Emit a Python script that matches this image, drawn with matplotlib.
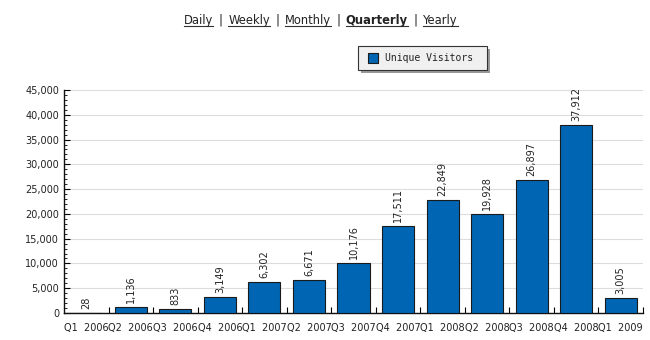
import numpy as np
import matplotlib
matplotlib.use("Agg")
import matplotlib.pyplot as plt
from matplotlib.lines import Line2D
from matplotlib.patches import Rectangle
from matplotlib.ticker import FuncFormatter, MultipleLocator

quarters = ["Q1  2006", "Q2  2006", "Q3  2006", "Q4  2006",
            "Q1  2007", "Q2  2007", "Q3  2007", "Q4  2007",
            "Q1  2008", "Q2  2008", "Q3  2008", "Q4  2008",
            "Q1  2009"]
visitors = [28, 1136, 833, 3149, 6302, 6671, 10176, 17511,
            22849, 19928, 26897, 37912, 3005]
nav_links = ["Daily", "Weekly", "Monthly", "Quarterly", "Yearly"]
active_link = "Quarterly"

bar_color = "#0066b3"
W, H = 650, 340
plt.rcParams["font.family"] = "DejaVu Sans"

fig = plt.figure(figsize=(W / 100, H / 100), dpi=100)
ax = fig.add_axes([64 / W, 27 / H, 579 / W, 223 / H])

x = np.arange(len(quarters))
ax.bar(x, visitors, width=0.72, color=bar_color, edgecolor="#1a1a1a",
       linewidth=0.8, zorder=3)
for xi, v in zip(x, visitors):
    ax.text(xi, v + 800, f"{v:,}", rotation=90, ha="center", va="bottom",
            fontsize=7, color="#222222", zorder=4)

ax.set_xlim(-0.5, len(quarters) - 0.5)
ax.set_ylim(0, 45000)
ax.yaxis.set_major_locator(MultipleLocator(5000))
ax.yaxis.set_minor_locator(MultipleLocator(1000))
ax.yaxis.set_major_formatter(FuncFormatter(lambda v, p: f"{int(v):,}"))
ax.grid(axis="y", color="#dddddd", linewidth=0.8, zorder=0)

ax.set_xticks(x)
ax.set_xticklabels(quarters, fontsize=7, color="#222222")
ax.tick_params(axis="x", length=0, pad=7)
ax.set_xticks(np.arange(len(quarters)) + 0.5, minor=True)
ax.tick_params(axis="x", which="minor", direction="in", length=4, width=0.8)
ax.tick_params(axis="y", which="major", direction="in", length=4,
               labelsize=7, labelcolor="#222222", width=0.8)
ax.tick_params(axis="y", which="minor", direction="in", length=2, width=0.6)

for side in ["top", "right"]:
    ax.spines[side].set_visible(False)
for side in ["left", "bottom"]:
    ax.spines[side].set_linewidth(1.0)
    ax.spines[side].set_color("#111111")

# navigation links across the top, each underlined, separated by pipes
fig.canvas.draw()
renderer = fig.canvas.get_renderer()
gap = 15
y_base = H - 24
cur = 184
for i, name in enumerate(nav_links):
    t = fig.text(cur / W, y_base / H, name, fontsize=8.3, color="#222222",
                 va="baseline",
                 fontweight="bold" if name == active_link else "normal")
    w = t.get_window_extent(renderer).width
    fig.add_artist(Line2D([cur / W, (cur + w) / W],
                          [(y_base - 2) / H, (y_base - 2) / H],
                          color="#333333", linewidth=0.8))
    cur += w
    if i < len(nav_links) - 1:
        fig.text((cur + gap / 2) / W, y_base / H, "|", fontsize=8.3,
                 color="#222222", ha="center", va="baseline")
        cur += gap

# legend box with drop shadow
lx0, ly0, lw, lh = 358, H - 70, 129, 24
fig.add_artist(Rectangle(((lx0 + 3) / W, (ly0 - 3) / H), lw / W, lh / H,
                         facecolor="#999999", edgecolor="none"))
fig.add_artist(Rectangle((lx0 / W, ly0 / H), lw / W, lh / H,
                         facecolor="#f0f0f0", edgecolor="#333333", linewidth=0.8))
fig.add_artist(Rectangle(((lx0 + 10) / W, (ly0 + 7) / H), 10 / W, 10 / H,
                         facecolor=bar_color, edgecolor="#1a1a1a", linewidth=0.8))
fig.text((lx0 + 27) / W, (ly0 + lh / 2) / H, "Unique Visitors",
         fontsize=7, family="DejaVu Sans Mono", va="center", color="#222222")

fig.savefig("out.png", dpi=100)
